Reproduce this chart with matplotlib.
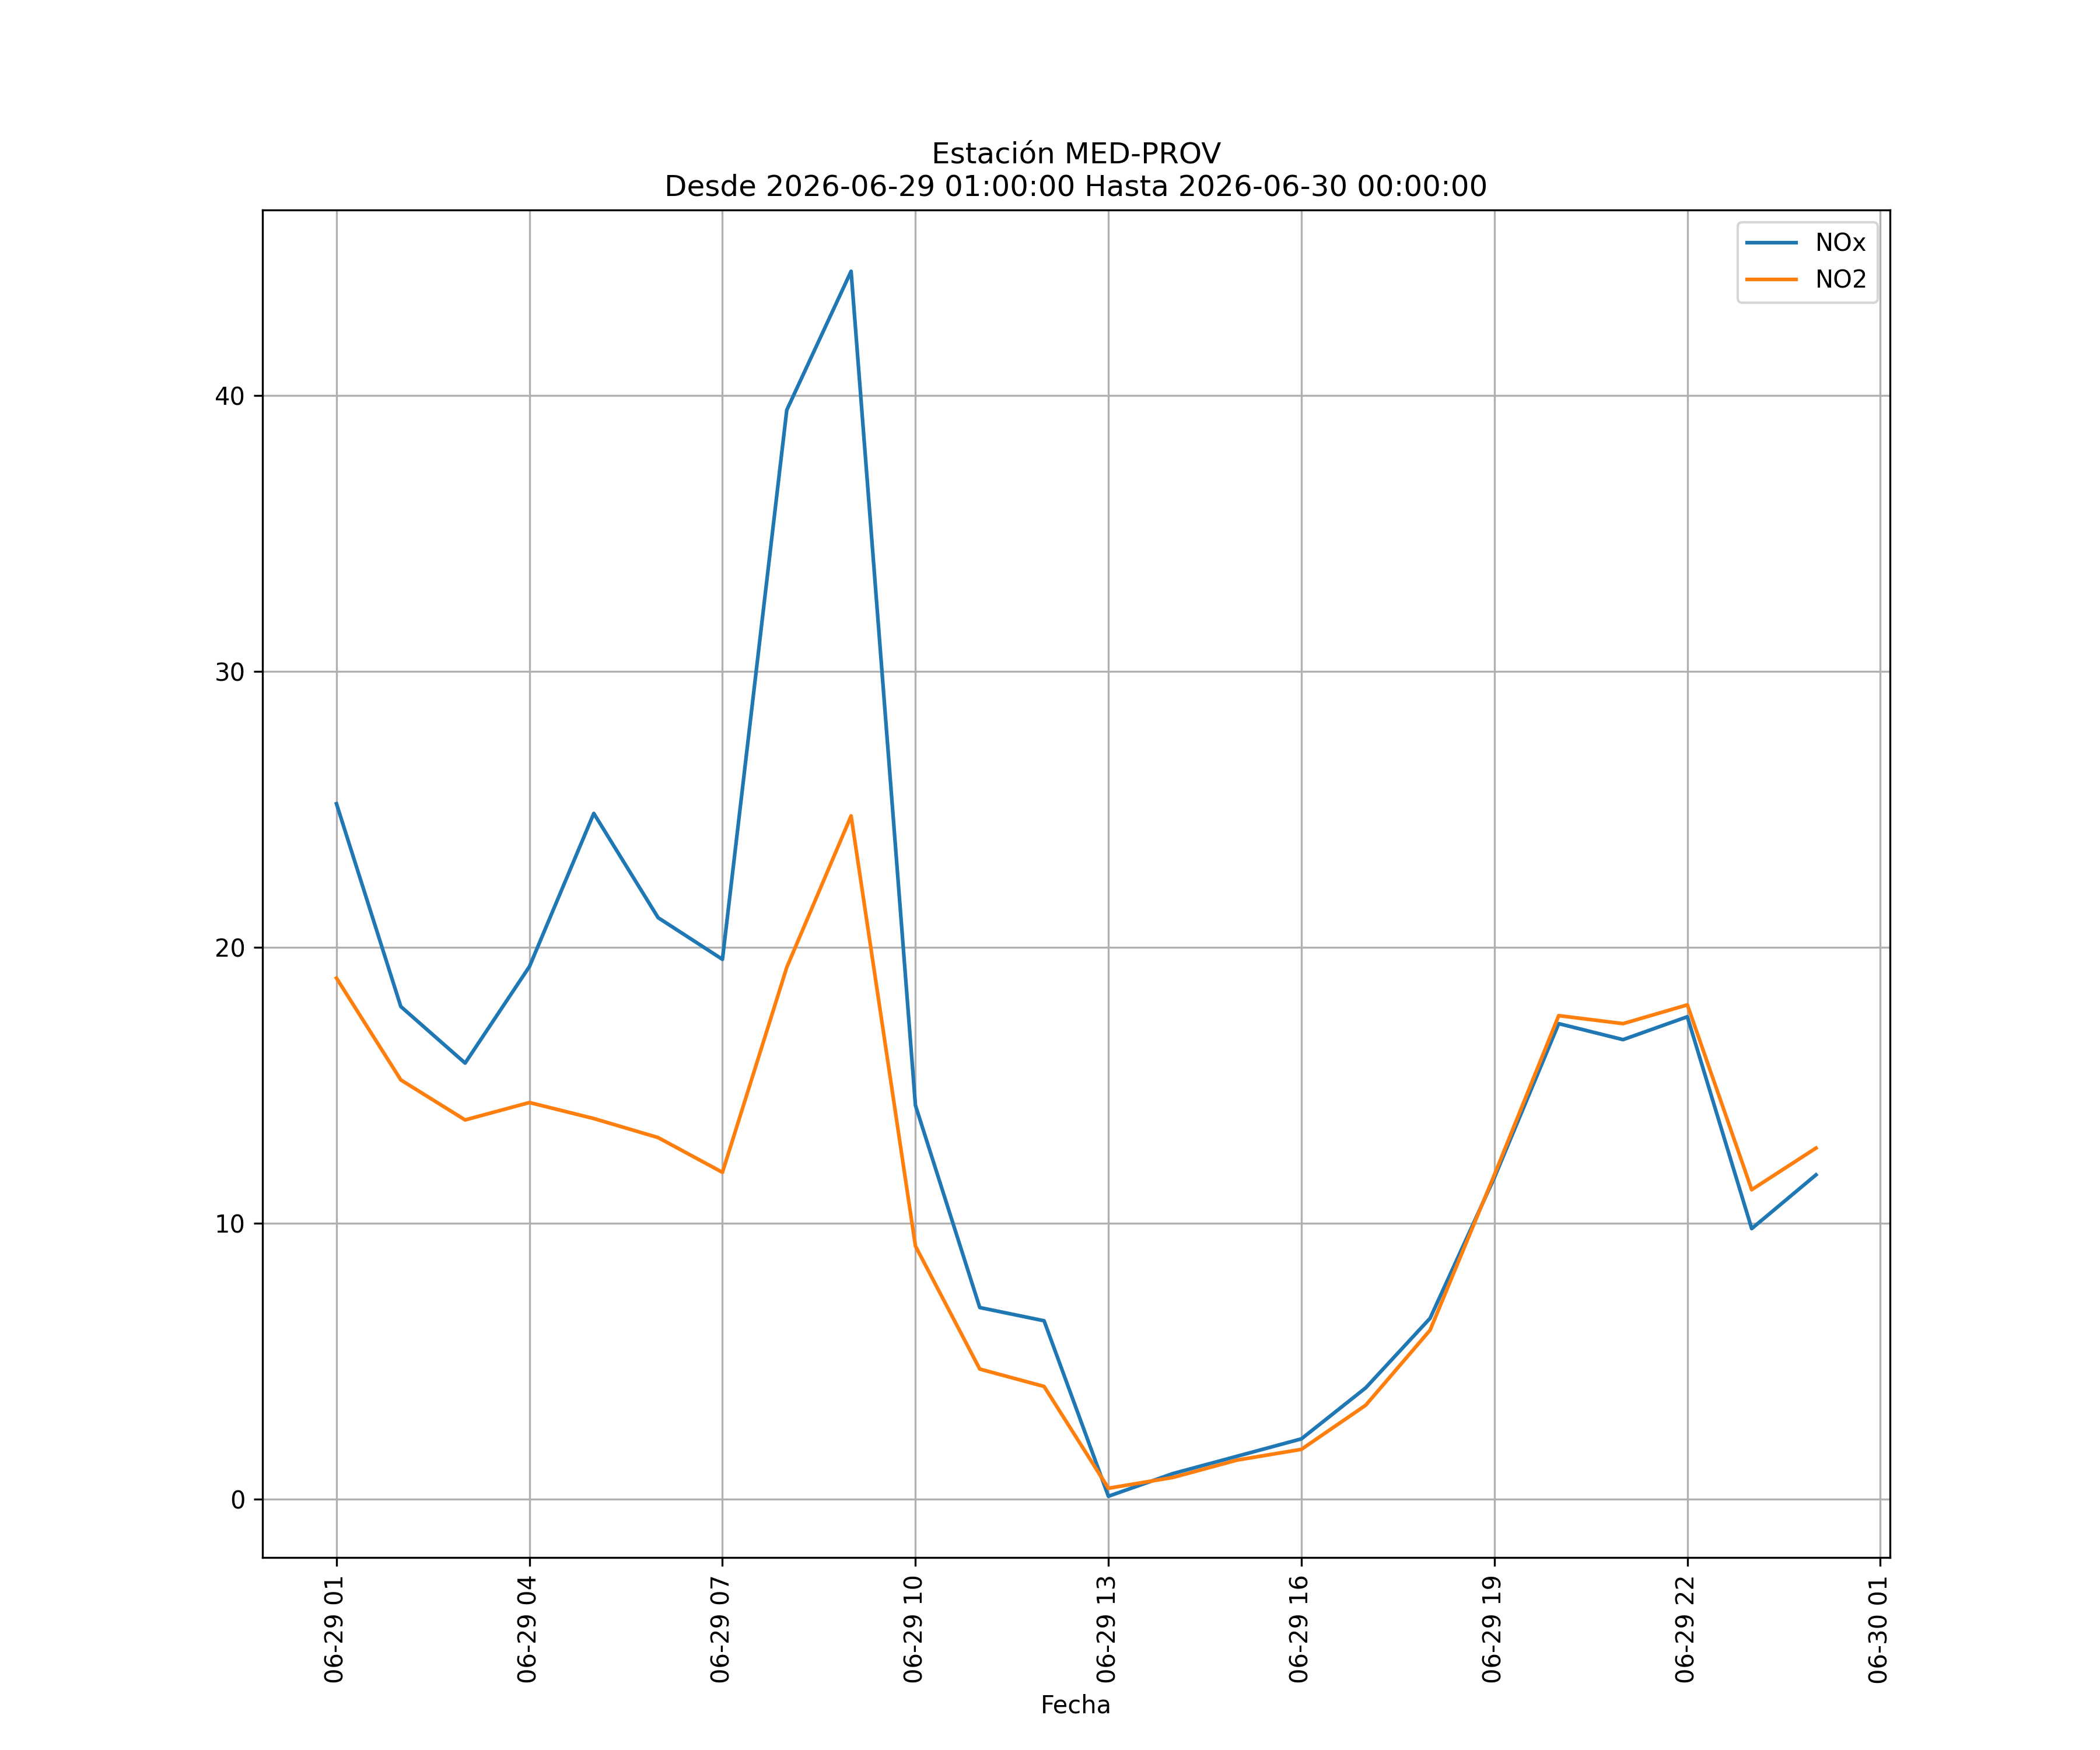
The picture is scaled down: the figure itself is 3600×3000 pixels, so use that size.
import matplotlib
matplotlib.use("Agg")
import matplotlib.pyplot as plt
import matplotlib.dates as mdates
import pandas as pd

# hourly readings, 2026-06-29 01:00 .. 2026-06-30 00:00
fechas = pd.date_range("2026-06-29 01:00:00", "2026-06-30 00:00:00", freq="h")

nox = [25.2, 17.85, 15.8, 19.3, 24.85, 21.07, 19.56, 39.47, 44.5, 14.27,
       6.94, 6.46, 0.1, 0.92, 1.55, 2.18, 4.03, 6.55, 11.65, 17.23,
       16.65, 17.48, 9.8, 11.75]
no2 = [18.88, 15.19, 13.74, 14.37, 13.79, 13.1, 11.84, 19.27, 24.76, 9.17,
       4.71, 4.08, 0.39, 0.78, 1.41, 1.8, 3.4, 6.12, 11.75, 17.52,
       17.23, 17.91, 11.21, 12.72]

estacion = "MED-PROV"
desde = "2026-06-29 01:00:00"
hasta = "2026-06-30 00:00:00"

fig, ax = plt.subplots(figsize=(12, 10), dpi=300)
ax.plot(fechas, nox, label="NOx")
ax.plot(fechas, no2, label="NO2")

ax.xaxis.set_major_locator(mdates.HourLocator(byhour=range(1, 24, 3)))
ax.xaxis.set_major_formatter(mdates.DateFormatter("%m-%d %H"))
plt.setp(ax.get_xticklabels(), rotation=90)

ax.set_title(f"Estación {estacion}\nDesde {desde} Hasta {hasta}")
ax.set_xlabel("Fecha")
ax.grid(True)
ax.legend(loc="upper right")

fig.savefig("out.png", dpi=300)
